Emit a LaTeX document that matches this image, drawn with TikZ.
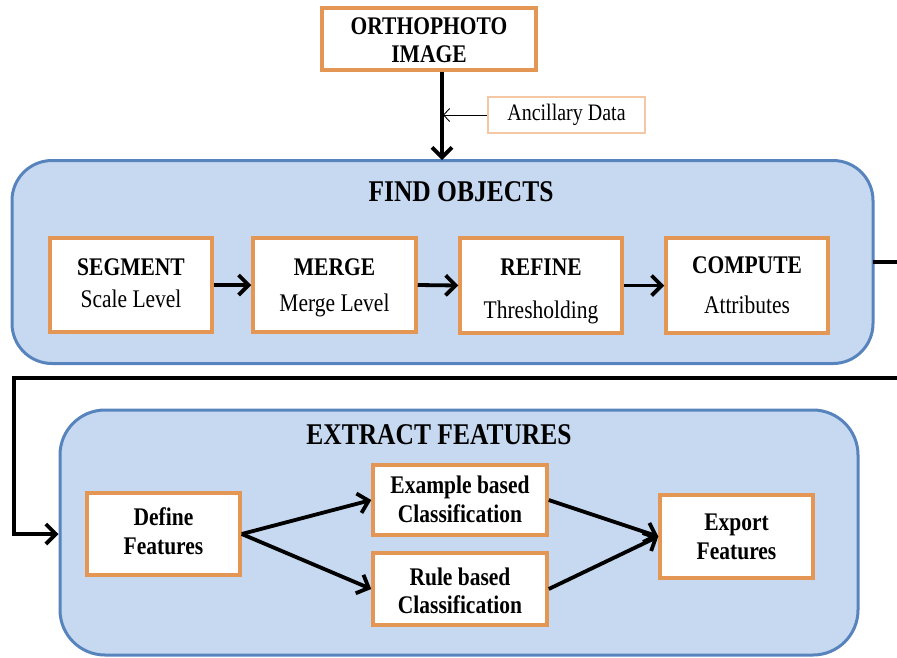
\documentclass[tikz,border=0pt]{standalone}
\usepackage{fontspec}
\setmainfont{Liberation Serif}
\usetikzlibrary{arrows.meta}
\definecolor{orangeB}{RGB}{228,150,84}
\definecolor{orangeL}{RGB}{244,200,165}
\definecolor{blueF}{RGB}{198,217,240}
\definecolor{blueB}{RGB}{88,132,190}
% two stretched lines: {first}{second}{extra gap}{drop}
\newcommand\twolines[4]{\raisebox{-#4}[\height][\depth]{\scalebox{1}[1.18]{\begin{tabular}{@{}c@{}}#1\\[#3]#2\end{tabular}}}}
\newcommand\tallone[1]{\scalebox{1}[1.18]{#1}}
\begin{document}
\begin{tikzpicture}[x=1pt,y=-1pt,
  obox/.style={draw=orangeB,line width=3.5pt,fill=white,inner sep=0pt,align=center,
    font=\fontsize{21.5}{26}\selectfont},
  panel/.style={draw=blueB,fill=blueF,line width=3pt,rounded corners=40pt,inner sep=0pt},
  ptitle/.style={font=\fontsize{25.5}{30}\selectfont\bfseries},
  conn/.style={line width=3.8pt,-{Straight Barb[length=10pt,width=20pt]}},
  thinconn/.style={line width=0.9pt,-{Straight Barb[length=6pt,width=13pt]}},
  plainline/.style={line width=3.8pt}]
\useasboundingbox (0,0) rectangle (897,657);
% panels
\node[panel,minimum width=861pt,minimum height=203pt] (find) at (442.5,262) {};
\node[panel,minimum width=798pt,minimum height=245pt,rounded corners=45pt] (extract) at (459,532.5) {};
\node[ptitle] (findt) at (461,192) {\tallone{FIND OBJECTS}};
\node[ptitle] (extractt) at (439,435) {\tallone{EXTRACT FEATURES}};
% top
\node[obox,minimum width=214pt,minimum height=62pt] (ortho) at (429,39) {\twolines{\textbf{ORTHOPHOTO}}{\textbf{IMAGE}}{-2.3pt}{3pt}};
\node[draw=orangeL,line width=1.2pt,fill=white,minimum width=157pt,minimum height=36pt,inner sep=0pt,
  font=\fontsize{20}{24}\selectfont] (anc) at (566.5,115) {\tallone{Ancillary Data}};
\coordinate (ftop) at (442,160);
\draw[conn] (ortho.south -| ftop) -- (ftop);
\draw[thinconn] (anc.west) -- (443,115);
% find objects row
\node[obox,minimum width=162pt,minimum height=94pt] (seg) at (131,285) {\twolines{\textbf{SEGMENT}}{Scale Level}{1.1pt}{0pt}};
\node[obox,minimum width=163pt,minimum height=94pt] (merge) at (334.5,285) {\twolines{\textbf{MERGE}}{Merge Level}{4.5pt}{2pt}};
\node[obox,minimum width=162pt,minimum height=95pt] (refine) at (541,285.5) {\twolines{\textbf{REFINE}}{Thresholding}{10.4pt}{5pt}};
\node[obox,minimum width=162pt,minimum height=95pt] (compute) at (747,285.5) {\twolines{\textbf{COMPUTE}}{Attributes}{7.9pt}{2pt}};
\draw[conn] (seg.east) -- (merge.west);
\draw[conn] (merge.east) -- (refine.west);
\draw[conn] (refine.east) -- (compute.west);
% link out and back
\coordinate (outA) at (873,262);
\coordinate (edgeA) at (897,262);
\coordinate (edgeB) at (897,378);
\coordinate (cornerA) at (14,378);
\draw[plainline] (outA) -- (edgeA);
% extract features
\node[obox,minimum width=153pt,minimum height=82pt] (define) at (163.5,534) {\twolines{\textbf{Define}}{\textbf{Features}}{-1.4pt}{0pt}};
\node[obox,minimum width=174pt,minimum height=70pt] (example) at (460,500) {\twolines{\textbf{Example based}}{\textbf{Classification}}{-1.4pt}{2pt}};
\node[obox,minimum width=174pt,minimum height=72pt] (rule) at (460,589) {\twolines{\textbf{Rule based}}{\textbf{Classification}}{-2.3pt}{4pt}};
\node[obox,minimum width=153pt,minimum height=83pt] (export) at (736.5,536.5) {\twolines{\textbf{Export}}{\textbf{Features}}{-1.4pt}{2pt}};
\draw[conn] (edgeB) -- (cornerA) -- (cornerA |- define.west) -- (extract.west |- define.west);
\draw[conn] (define.east) -- (example.west);
\draw[conn] (define.east) -- (rule.west);
\draw[conn] (example.east) -- (export.west);
\draw[conn] (rule.east) -- (export.west);
\end{tikzpicture}
\end{document}
